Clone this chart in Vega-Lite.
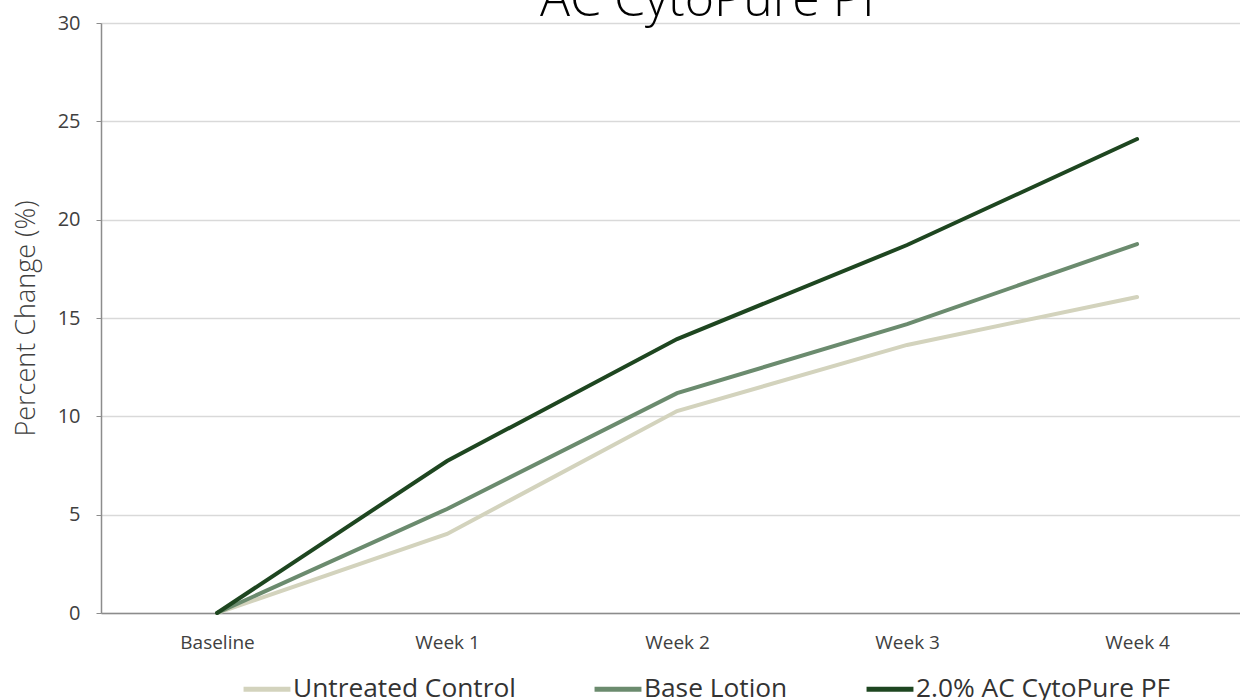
{
  "$schema": "https://vega.github.io/schema/vega-lite/v6.json",
  "autosize": {"type": "none"},
  "padding": {"left": 101, "top": 23, "right": 0, "bottom": 87},
  "width": 1139,
  "height": 590,
  "background": "white",
  "title": {
    "text": "AC CytoPure PF",
    "fontSize": 50,
    "font": "Open Sans",
    "fontWeight": 300,
    "color": "#000000",
    "anchor": "middle",
    "frame": "group",
    "dx": 43,
    "offset": -53,
    "baseline": "alphabetic"
  },
  "data": {
    "values": [
      {"week": "Baseline", "series": "Untreated Control", "value": 0},
      {"week": "Week 1", "series": "Untreated Control", "value": 4.02},
      {"week": "Week 2", "series": "Untreated Control", "value": 10.27},
      {"week": "Week 3", "series": "Untreated Control", "value": 13.63},
      {"week": "Week 4", "series": "Untreated Control", "value": 16.07},
      {"week": "Baseline", "series": "Base Lotion", "value": 0},
      {"week": "Week 1", "series": "Base Lotion", "value": 5.29},
      {"week": "Week 2", "series": "Base Lotion", "value": 11.18},
      {"week": "Week 3", "series": "Base Lotion", "value": 14.69},
      {"week": "Week 4", "series": "Base Lotion", "value": 18.76},
      {"week": "Baseline", "series": "2.0% AC CytoPure PF", "value": 0},
      {"week": "Week 1", "series": "2.0% AC CytoPure PF", "value": 7.73},
      {"week": "Week 2", "series": "2.0% AC CytoPure PF", "value": 13.93},
      {"week": "Week 3", "series": "2.0% AC CytoPure PF", "value": 18.71},
      {"week": "Week 4", "series": "2.0% AC CytoPure PF", "value": 24.1}
    ]
  },
  "mark": {"type": "line", "strokeWidth": 4, "strokeCap": "round"},
  "encoding": {
    "x": {
      "field": "week",
      "type": "ordinal",
      "sort": null,
      "scale": {"type": "point", "padding": 0.476, "align": 0.53},
      "axis": {
        "title": null,
        "labelAngle": 0,
        "labelFont": "Open Sans",
        "labelFontSize": 19,
        "labelColor": "#404040",
        "labelPadding": 20,
        "ticks": false,
        "domainColor": "#8c8c8c",
        "domainWidth": 1.5,
        "grid": false
      }
    },
    "y": {
      "field": "value",
      "type": "quantitative",
      "scale": {"domain": [0, 30], "nice": false},
      "axis": {
        "title": "Percent Change (%)",
        "titleFont": "Open Sans",
        "titleFontWeight": 300,
        "titleFontSize": 27,
        "titleColor": "#404040",
        "titlePadding": 17,
        "values": [0, 5, 10, 15, 20, 25, 30],
        "labelFont": "Open Sans",
        "labelFontSize": 20,
        "labelColor": "#404040",
        "labelPadding": 16,
        "tickSize": 5,
        "tickColor": "#8c8c8c",
        "domainColor": "#8c8c8c",
        "domainWidth": 1.5,
        "gridColor": "#d9d9d9",
        "gridWidth": 1.5
      }
    },
    "color": {
      "field": "series",
      "type": "nominal",
      "sort": ["Untreated Control", "Base Lotion", "2.0% AC CytoPure PF"],
      "scale": {
        "domain": ["Untreated Control", "Base Lotion", "2.0% AC CytoPure PF"],
        "range": ["#d3d3bd", "#6b8b6e", "#1e4620"]
      },
      "legend": {
        "title": null,
        "orient": "none",
        "direction": "horizontal",
        "legendX": 140,
        "legendY": 640,
        "symbolType": "stroke",
        "symbolSize": 2200,
        "symbolStrokeWidth": 5,
        "labelFont": "Open Sans",
        "labelFontSize": 26.3,
        "labelColor": "#333333",
        "labelOffset": 0,
        "columnPadding": 68,
        "labelLimit": 400
      }
    }
  },
  "config": {"view": {"stroke": null}}
}
